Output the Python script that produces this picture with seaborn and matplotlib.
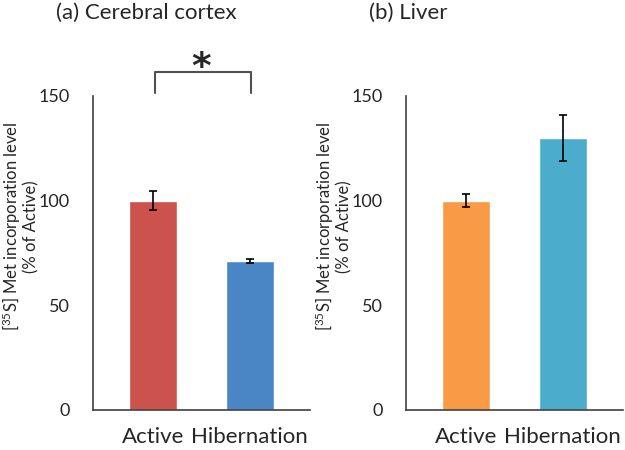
import numpy as np
import pandas as pd
import seaborn as sns
import matplotlib.pyplot as plt

groups = ["Active", "Hibernation"]
cortex_mean = [100, 71]
cortex_err = [4.5, 1.0]
liver_mean = [100, 130]
liver_err = [3.0, 11.0]
cortex_colors = ["#CB524D", "#4A86C6"]
liver_colors = ["#F99A45", "#4BADCB"]

sns.set_style("white")
plt.rcParams["font.family"] = ["Lato", "DejaVu Sans"]
plt.rcParams["mathtext.default"] = "regular"

fig = plt.figure(figsize=(6.25, 4.5), dpi=100)
ax1 = fig.add_axes([0.1488, 0.0889, 0.347, 0.698])
ax2 = fig.add_axes([0.6496, 0.0889, 0.347, 0.698])

panels = [
    (ax1, cortex_mean, cortex_err, cortex_colors, "(a) Cerebral cortex"),
    (ax2, liver_mean, liver_err, liver_colors, "(b) Liver"),
]

for ax, mean, err, cols, title in panels:
    df = pd.DataFrame({"group": groups, "value": mean})
    sns.barplot(data=df, x="group", y="value", hue="group", palette=cols,
                width=0.5, errorbar=None, legend=False, ax=ax, saturation=1)
    ax.errorbar(np.arange(len(groups)), mean, yerr=err, fmt="none",
                ecolor="black", elinewidth=1.2, capsize=3, capthick=1.2)
    ax.set_ylim(0, 150)
    ax.set_xlim(-0.62, 1.62)
    ax.set_yticks([0, 50, 100, 150])
    ax.tick_params(axis="y", direction="out", length=5, width=1.1,
                   color="#404040", labelsize=13, pad=12)
    ax.tick_params(axis="x", length=0, labelsize=16, pad=12)
    ax.set_xlabel("")
    ax.set_ylabel("[$^{35}$S] Met incorporation level\n(% of Active)",
                  fontsize=12, linespacing=1.05)
    ax.yaxis.set_label_coords(-0.245, 0.585)
    for s in ["top", "right"]:
        ax.spines[s].set_visible(False)
    for s in ["left", "bottom"]:
        ax.spines[s].set_color("#404040")
        ax.spines[s].set_linewidth(1.2)
    ax.set_title(title, fontsize=16, loc="left", x=-0.17, y=1.22)

# significance bracket on cortex panel
ax1.plot([0.02, 0.02, 1.01, 1.01], [151.5, 161.5, 161.5, 151.5],
         color="#505050", lw=1.5, clip_on=False)
ax1.text(0.5, 158.5, "*", fontsize=27, fontweight="bold", family="DejaVu Sans",
         ha="center", va="baseline", clip_on=False)

fig.savefig("out.png", dpi=100)
